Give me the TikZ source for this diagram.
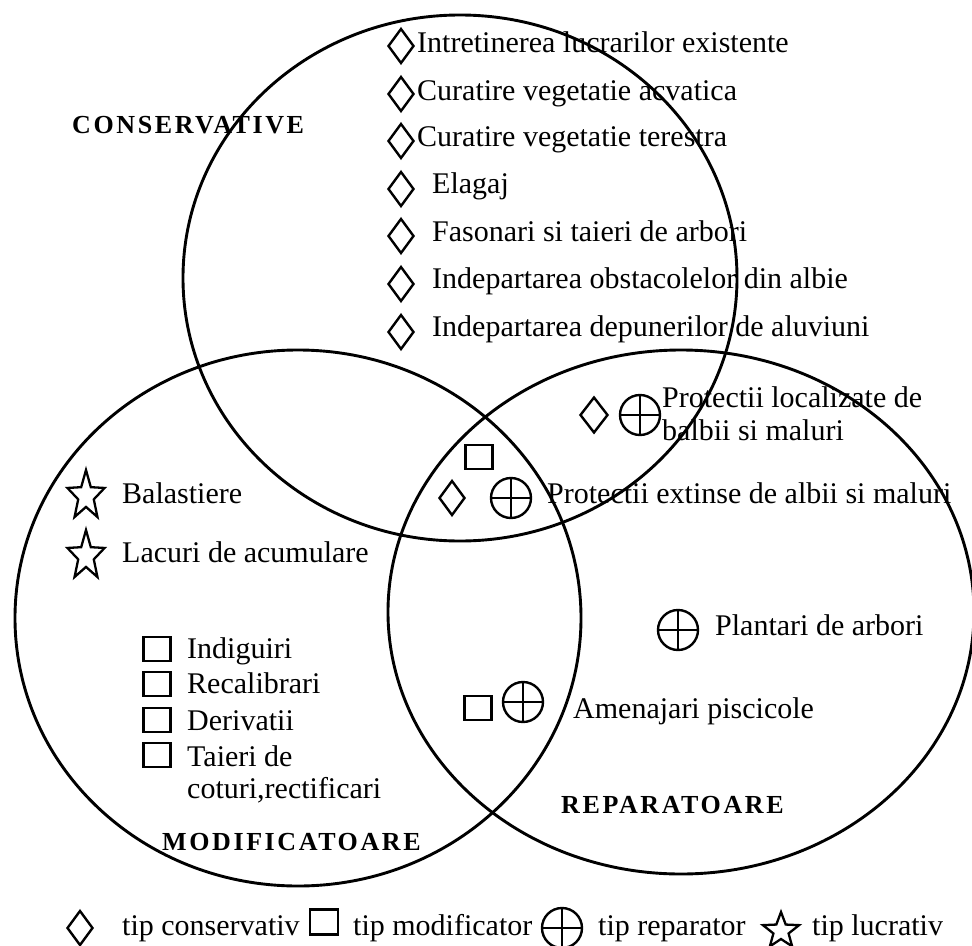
\documentclass[tikz,border=0pt]{standalone}
\usepackage{fontspec}
\setmainfont{Liberation Serif}
\usetikzlibrary{shapes.geometric}
\tikzset{
  pics/starmark/.style 2 args={code={
    \draw[line width=2.3bp, xscale=#2]
      (-90:#1) -- (-54:{0.42*#1}) -- (-18:#1) -- (18:{0.42*#1}) -- (54:#1)
      -- (90:{0.42*#1}) -- (126:#1) -- (162:{0.42*#1}) -- (198:#1)
      -- (234:{0.42*#1}) -- cycle;}}
}
\begin{document}
\begin{tikzpicture}[x=1bp,y=-1bp,
  ring/.style={draw, ellipse, line width=2.9bp, inner sep=0},
  txt/.style={anchor=base west, inner sep=0, font=\fontsize{30bp}{36bp}\selectfont},
  title/.style={anchor=base west, inner sep=0,
    font=\fontsize{26bp}{30bp}\selectfont\bfseries\addfontfeature{LetterSpace=10}},
  dmd/.style={draw, diamond, line width=2.4bp, inner sep=0,
    minimum width=26bp, minimum height=35bp},
  sqr/.style={draw, rectangle, line width=2.4bp, inner sep=0,
    minimum width=27bp, minimum height=24bp},
  oplus/.style={draw, circle, line width=2.4bp, inner sep=0, minimum size=40bp,
    path picture={\draw[line width=2.4bp]
      (path picture bounding box.north) -- (path picture bounding box.south)
      (path picture bounding box.west) -- (path picture bounding box.east);}},
]
\useasboundingbox (0,0) rectangle (972,946);

% the three sets
\node[ring, minimum width=554bp, minimum height=526bp] (cons) at (460,278) {};
\node[ring, minimum width=566bp, minimum height=536bp] (modif) at (298,618) {};
\node[ring, minimum width=586bp, minimum height=524bp] (repar) at (681,612) {};

% set titles
\node[title] (tcons) at (72,133) {CONSERVATIVE};
\node[title] (tmodif) at (162,850) {MODIFICATOARE};
\node[title] (trepar) at (561,813) {REPARATOARE};

% conservative works
\node[dmd] (d1) at (401,46) {};
\node[txt] (t1) at (417,52) {Intretinerea lucrarilor existente};
\node[dmd] (d2) at (401,94) {};
\node[txt] (t2) at (417,100) {Curatire vegetatie acvatica};
\node[dmd] (d3) at (401,141) {};
\node[txt] (t3) at (417,146) {Curatire vegetatie terestra};
\node[dmd] (d4) at (401,189) {};
\node[txt] (t4) at (432,193) {Elagaj};
\node[dmd] (d5) at (401,236) {};
\node[txt] (t5) at (432,241) {Fasonari si taieri de arbori};
\node[dmd] (d6) at (401,284) {};
\node[txt] (t6) at (432,288) {Indepartarea obstacolelor din albie};
\node[dmd] (d7) at (401,332) {};
\node[txt] (t7) at (432,336) {Indepartarea depunerilor de aluviuni};

% shared works
\node[dmd, minimum width=28bp, minimum height=36bp] (d9) at (594,415) {};
\node[oplus] (p2) at (640,415) {};
\node[txt] (t9) at (662,407) {Protectii localizate de};
\node[txt] (t10) at (662,440) {balbii si maluri};

\node[sqr] (q0) at (479,457) {};
\node[dmd] (d8) at (452,498) {};
\node[oplus] (p1) at (511,498) {};
\node[txt] (t8) at (547,503) {Protectii extinse de albii si maluri};

% repairing works
\node[oplus] (p3) at (678,630) {};
\node[txt] (t11) at (715,635) {Plantari de arbori};
\node[sqr] (q1) at (478,708) {};
\node[oplus] (p4) at (523,702) {};
\node[txt] (t12) at (573,718) {Amenajari piscicole};

% modifying works
\pic (s1) at (86,496) {starmark={26}{0.75}};
\node[txt] (t13) at (122,503) {Balastiere};
\pic (s2) at (86,556) {starmark={26}{0.75}};
\node[txt] (t14) at (122,562) {Lacuri de acumulare};

\node[sqr] (q2) at (157,649) {};
\node[txt] (t15) at (187,658) {Indiguiri};
\node[sqr] (q3) at (157,684) {};
\node[txt] (t16) at (187,693) {Recalibrari};
\node[sqr] (q4) at (157,720) {};
\node[txt] (t17) at (187,730) {Derivatii};
\node[sqr] (q5) at (157,755) {};
\node[txt] (t18) at (187,766) {Taieri de};
\node[txt] (t19) at (187,798) {coturi,rectificari};

% legend
\node[dmd] (ld) at (80,928) {};
\node[txt] (l1) at (122,935) {tip conservativ};
\node[sqr, minimum width=28bp, minimum height=25bp] (lq) at (324,922) {};
\node[txt] (l2) at (353,935) {tip modificator};
\node[oplus] (lp) at (562,928) {};
\node[txt] (l3) at (598,935) {tip reparator};
\pic (ls) at (781,931) {starmark={19}{1}};
\node[txt] (l4) at (812,935) {tip lucrativ};
\end{tikzpicture}
\end{document}
